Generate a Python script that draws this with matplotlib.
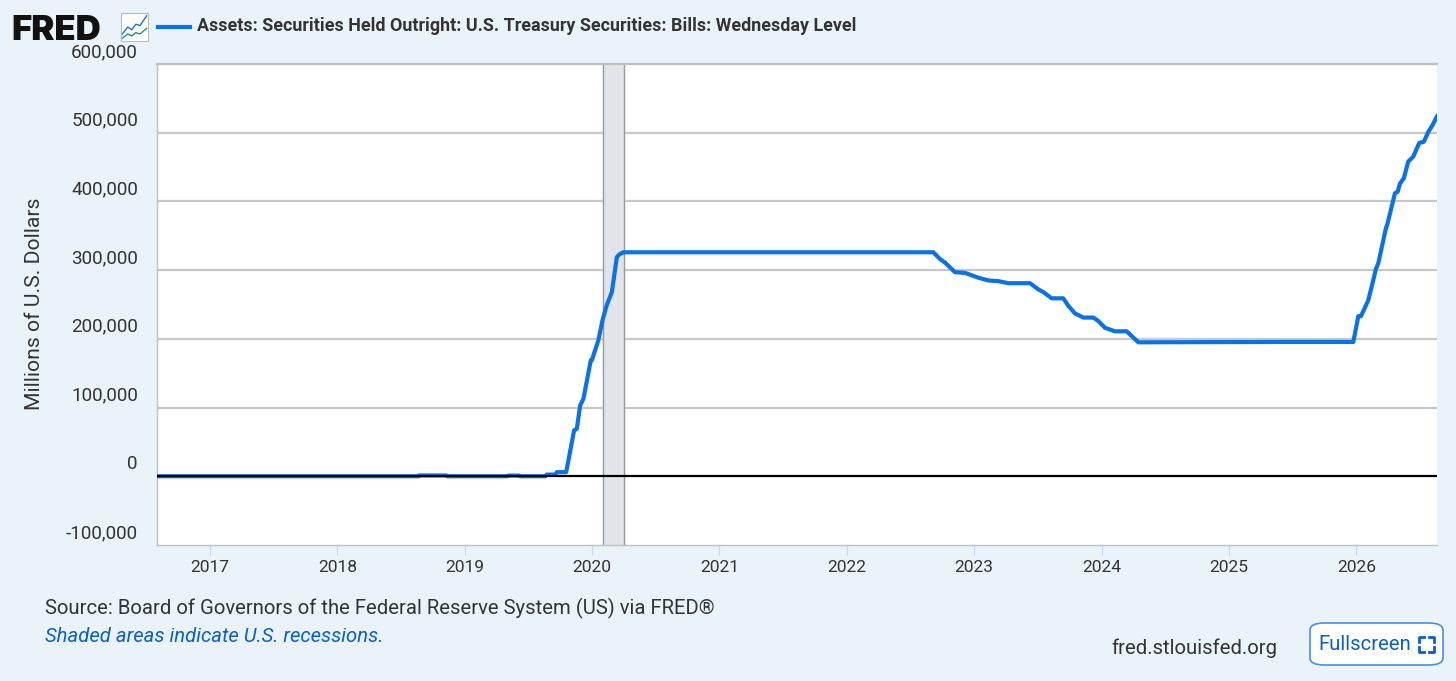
import matplotlib
matplotlib.use('Agg')
import matplotlib.pyplot as plt
from matplotlib.patches import FancyBboxPatch
import matplotlib.transforms as mtransforms

# data: decimal year, millions of US dollars
years = [2016.584, 2018.634, 2018.640, 2018.855, 2018.862, 2019.333, 2019.340,
         2019.428, 2019.435, 2019.631, 2019.644, 2019.710, 2019.723, 2019.796,
         2019.814, 2019.841, 2019.859, 2019.880, 2019.906, 2019.932, 2019.990,
         2019.998, 2020.049, 2020.084, 2020.115, 2020.155, 2020.194, 2020.214,
         2020.246, 2022.679, 2022.732, 2022.771, 2022.849, 2022.928, 2023.032,
         2023.111, 2023.189, 2023.268, 2023.438, 2023.503, 2023.543, 2023.608,
         2023.699, 2023.739, 2023.791, 2023.856, 2023.935, 2023.974, 2024.027,
         2024.105, 2024.197, 2024.288, 2025.380, 2025.976, 2026.015, 2026.036,
         2026.093, 2026.120, 2026.154, 2026.172, 2026.232, 2026.242, 2026.303,
         2026.324, 2026.342, 2026.373, 2026.407, 2026.446, 2026.493, 2026.530,
         2026.564, 2026.598, 2026.633]
values = [0, 0, 1200, 1200, 0, 0, 1000,
          1000, 0, 0, 2500, 2500, 6000, 6000,
          23000, 50000, 67000, 69000, 103000, 113000, 169000,
          169000, 198000, 229000, 249000, 268000, 319000, 323000,
          326000, 326000, 316000, 311000, 297000, 296000, 289000,
          285000, 284000, 281000, 281000, 272000, 268000, 259000,
          259000, 248000, 237000, 231000, 231000, 226000, 216000,
          211000, 211000, 195000, 195500, 195500, 233000, 233000,
          256000, 276000, 302000, 310000, 361000, 366000, 412000,
          414000, 426000, 434000, 458000, 465000, 485000, 487000,
          501000, 511000, 524000]

recession_start = 2020.086
recession_end = 2020.251

year_ticks = list(range(2017, 2027))
value_ticks = [-100000, 0, 100000, 200000, 300000, 400000, 500000, 600000]

TITLE = 'Assets: Securities Held Outright: U.S. Treasury Securities: Bills: Wednesday Level'
BG = '#eaf2fa'
BLUE = '#0a72e6'
TXT = '#333333'

plt.rcParams['font.family'] = ['Roboto', 'DejaVu Sans']

fig = plt.figure(figsize=(14.56, 6.81), dpi=100, facecolor=BG)
ax = fig.add_axes([157/1456, 136/681, 1280/1456, 481/681])
ax.set_facecolor('white')

ax.axvspan(recession_start, recession_end, color='#e1e5ea', zorder=1)
ax.axvline(recession_start, color='#999999', lw=1, zorder=1)
ax.axvline(recession_end, color='#999999', lw=1, zorder=1)

for v in value_ticks[2:]:
    ax.axhline(v, color='#c8c8c8', lw=1.6, zorder=0.5)
ax.axhline(0, color='black', lw=1.6, zorder=5)

ax.plot(years, values, color=BLUE, lw=3, solid_joinstyle='round', zorder=4)

ax.set_xlim(2016.584, 2026.633)
ax.set_ylim(-100000, 600000)

ax.set_xticks(year_ticks)
ax.set_xticklabels([str(y) for y in year_ticks], fontsize=12.5, color=TXT)
ax.tick_params(axis='x', length=7.5, width=0.8, color='#ccd6eb', pad=3)
ax.set_yticks([])

# y labels sit above their grid line, FRED style
off = mtransforms.ScaledTranslation(-19/100, 12/100, fig.dpi_scale_trans)
trans = mtransforms.blended_transform_factory(ax.transAxes, ax.transData) + off
for v in value_ticks:
    ax.text(0, v, f'{v:,}', transform=trans, ha='right', va='center',
            fontsize=13.6, color=TXT)

for s in ['left', 'top', 'bottom']:
    ax.spines[s].set_color('#c0c0c0')
ax.spines['left'].set_linewidth(1)
ax.spines['top'].set_linewidth(1.6)
ax.spines['bottom'].set_linewidth(1)
ax.spines['right'].set_visible(False)

fig.text(35/1456, 1 - 304/681, 'Millions of U.S. Dollars', rotation=90,
         ha='center', va='center', fontsize=15.2, color=TXT)

# header: FRED logo, icon, legend
fig.text(11/1456, 1 - 40/681, 'FRED', fontsize=25, fontweight='black',
         family=['Inter', 'Roboto'], color='#111111', ha='left', va='baseline')
icon = fig.add_axes([121/1456, 1 - 41/681, 27/1456, 28/681])
icon.set_xlim(0, 1)
icon.set_ylim(0, 1)
icon.set_xticks([])
icon.set_yticks([])
icon.set_facecolor('white')
for s in icon.spines.values():
    s.set_color('#bbbbbb')
icon.plot([0.05, 0.25, 0.4, 0.55, 0.7, 0.95], [0.25, 0.5, 0.4, 0.6, 0.55, 0.9],
          color='#1f6fd8', lw=1)
icon.plot([0.05, 0.25, 0.4, 0.55, 0.7, 0.95], [0.1, 0.25, 0.18, 0.3, 0.25, 0.45],
          color='#1a9a7a', lw=1)

fig.add_artist(plt.Line2D([158/1456, 190/1456], [1 - 27/681, 1 - 27/681],
                          color=BLUE, lw=3))
fig.text(197/1456, 1 - 26/681, TITLE, fontsize=12.9, fontweight='bold',
         color=TXT, ha='left', va='center')

# footer
fig.text(45/1456, 1 - 608/681,
         'Source: Board of Governors of the Federal Reserve System (US) via FRED\u00ae',
         fontsize=14.6, color=TXT, ha='left', va='center')
fig.text(45/1456, 1 - 637/681, 'Shaded areas indicate U.S. recessions.',
         fontsize=14.6, style='italic', color='#0b5fcc', ha='left', va='center')
fig.text(1277/1456, 1 - 648/681, 'fred.stlouisfed.org', fontsize=14.6,
         color=TXT, ha='right', va='center')

btn = FancyBboxPatch((1310/1456, 1 - 665/681), 133/1456, 42/681,
                     boxstyle='round,pad=0,rounding_size=0.01',
                     transform=fig.transFigure, facecolor='white',
                     edgecolor='#4a90e2', lw=1.2)
fig.add_artist(btn)
fig.text(1318/1456, 1 - 644/681, 'Fullscreen', fontsize=14.6, color='#0b5fcc',
         ha='left', va='center')
# bracket icon of the button
bx0, bx1, by0, by1 = 1419, 1434, 637, 652
c = 5
for (x, y, dx, dy) in [(bx0, by0, 1, 1), (bx1, by0, -1, 1), (bx0, by1, 1, -1), (bx1, by1, -1, -1)]:
    fig.add_artist(plt.Line2D([(x + dx*c)/1456, x/1456, x/1456],
                              [1 - y/681, 1 - y/681, 1 - (y + dy*c)/681],
                              color='#0b5fcc', lw=2))

fig.savefig('out.png', dpi=100, facecolor=BG)
